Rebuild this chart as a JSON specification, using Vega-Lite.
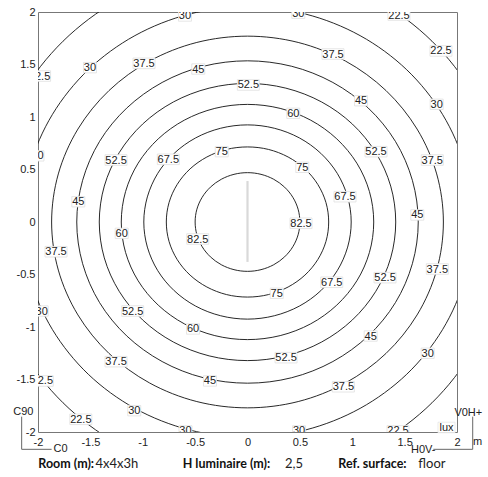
{
  "$schema": "https://vega.github.io/schema/vega-lite/v6.json",
  "width": 419,
  "height": 420,
  "autosize": {"type": "none"},
  "padding": {"left": 38, "top": 12, "right": 31, "bottom": 45},
  "background": "white",
  "config": {"view": {"stroke": "#777", "strokeWidth": 1}},
  "datasets": {
    "contours": [
      {"c":82.5,"i":0,"x":0.5,"y":0},{"c":82.5,"i":1,"x":0.483,"y":0.122},{"c":82.5,"i":2,"x":0.433,"y":0.235},{"c":82.5,"i":3,"x":0.354,"y":0.332},{"c":82.5,"i":4,"x":0.25,"y":0.407},{"c":82.5,"i":5,"x":0.129,"y":0.454},{"c":82.5,"i":6,"x":0,"y":0.47},{"c":82.5,"i":7,"x":-0.129,"y":0.454},{"c":82.5,"i":8,"x":-0.25,"y":0.407},{"c":82.5,"i":9,"x":-0.354,"y":0.332},{"c":82.5,"i":10,"x":-0.433,"y":0.235},{"c":82.5,"i":11,"x":-0.483,"y":0.122},{"c":82.5,"i":12,"x":-0.5,"y":0},{"c":82.5,"i":13,"x":-0.483,"y":-0.122},{"c":82.5,"i":14,"x":-0.433,"y":-0.235},{"c":82.5,"i":15,"x":-0.354,"y":-0.332},{"c":82.5,"i":16,"x":-0.25,"y":-0.407},{"c":82.5,"i":17,"x":-0.129,"y":-0.454},{"c":82.5,"i":18,"x":0,"y":-0.47},{"c":82.5,"i":19,"x":0.129,"y":-0.454},{"c":82.5,"i":20,"x":0.25,"y":-0.407},{"c":82.5,"i":21,"x":0.354,"y":-0.332},{"c":82.5,"i":22,"x":0.433,"y":-0.235},{"c":82.5,"i":23,"x":0.483,"y":-0.122},
      {"c":75,"i":0,"x":0.775,"y":0},{"c":75,"i":1,"x":0.749,"y":0.185},{"c":75,"i":2,"x":0.671,"y":0.358},{"c":75,"i":3,"x":0.548,"y":0.506},{"c":75,"i":4,"x":0.388,"y":0.619},{"c":75,"i":5,"x":0.201,"y":0.691},{"c":75,"i":6,"x":0,"y":0.715},{"c":75,"i":7,"x":-0.201,"y":0.691},{"c":75,"i":8,"x":-0.388,"y":0.619},{"c":75,"i":9,"x":-0.548,"y":0.506},{"c":75,"i":10,"x":-0.671,"y":0.358},{"c":75,"i":11,"x":-0.749,"y":0.185},{"c":75,"i":12,"x":-0.775,"y":0},{"c":75,"i":13,"x":-0.749,"y":-0.185},{"c":75,"i":14,"x":-0.671,"y":-0.358},{"c":75,"i":15,"x":-0.548,"y":-0.506},{"c":75,"i":16,"x":-0.388,"y":-0.619},{"c":75,"i":17,"x":-0.201,"y":-0.691},{"c":75,"i":18,"x":0,"y":-0.715},{"c":75,"i":19,"x":0.201,"y":-0.691},{"c":75,"i":20,"x":0.388,"y":-0.619},{"c":75,"i":21,"x":0.548,"y":-0.506},{"c":75,"i":22,"x":0.671,"y":-0.358},{"c":75,"i":23,"x":0.749,"y":-0.185},
      {"c":67.5,"i":0,"x":0.99,"y":0},{"c":67.5,"i":1,"x":0.956,"y":0.239},{"c":67.5,"i":2,"x":0.857,"y":0.463},{"c":67.5,"i":3,"x":0.7,"y":0.654},{"c":67.5,"i":4,"x":0.495,"y":0.801},{"c":67.5,"i":5,"x":0.256,"y":0.893},{"c":67.5,"i":6,"x":0,"y":0.925},{"c":67.5,"i":7,"x":-0.256,"y":0.893},{"c":67.5,"i":8,"x":-0.495,"y":0.801},{"c":67.5,"i":9,"x":-0.7,"y":0.654},{"c":67.5,"i":10,"x":-0.857,"y":0.463},{"c":67.5,"i":11,"x":-0.956,"y":0.239},{"c":67.5,"i":12,"x":-0.99,"y":0},{"c":67.5,"i":13,"x":-0.956,"y":-0.239},{"c":67.5,"i":14,"x":-0.857,"y":-0.463},{"c":67.5,"i":15,"x":-0.7,"y":-0.654},{"c":67.5,"i":16,"x":-0.495,"y":-0.801},{"c":67.5,"i":17,"x":-0.256,"y":-0.893},{"c":67.5,"i":18,"x":0,"y":-0.925},{"c":67.5,"i":19,"x":0.256,"y":-0.893},{"c":67.5,"i":20,"x":0.495,"y":-0.801},{"c":67.5,"i":21,"x":0.7,"y":-0.654},{"c":67.5,"i":22,"x":0.857,"y":-0.463},{"c":67.5,"i":23,"x":0.956,"y":-0.239},
      {"c":60,"i":0,"x":1.205,"y":0},{"c":60,"i":1,"x":1.164,"y":0.29},{"c":60,"i":2,"x":1.044,"y":0.56},{"c":60,"i":3,"x":0.852,"y":0.792},{"c":60,"i":4,"x":0.603,"y":0.97},{"c":60,"i":5,"x":0.312,"y":1.082},{"c":60,"i":6,"x":0,"y":1.12},{"c":60,"i":7,"x":-0.312,"y":1.082},{"c":60,"i":8,"x":-0.603,"y":0.97},{"c":60,"i":9,"x":-0.852,"y":0.792},{"c":60,"i":10,"x":-1.044,"y":0.56},{"c":60,"i":11,"x":-1.164,"y":0.29},{"c":60,"i":12,"x":-1.205,"y":0},{"c":60,"i":13,"x":-1.164,"y":-0.29},{"c":60,"i":14,"x":-1.044,"y":-0.56},{"c":60,"i":15,"x":-0.852,"y":-0.792},{"c":60,"i":16,"x":-0.603,"y":-0.97},{"c":60,"i":17,"x":-0.312,"y":-1.082},{"c":60,"i":18,"x":0,"y":-1.12},{"c":60,"i":19,"x":0.312,"y":-1.082},{"c":60,"i":20,"x":0.603,"y":-0.97},{"c":60,"i":21,"x":0.852,"y":-0.792},{"c":60,"i":22,"x":1.044,"y":-0.56},{"c":60,"i":23,"x":1.164,"y":-0.29},
      {"c":52.5,"i":0,"x":1.415,"y":0},{"c":52.5,"i":1,"x":1.367,"y":0.342},{"c":52.5,"i":2,"x":1.225,"y":0.66},{"c":52.5,"i":3,"x":1.001,"y":0.933},{"c":52.5,"i":4,"x":0.708,"y":1.143},{"c":52.5,"i":5,"x":0.366,"y":1.275},{"c":52.5,"i":6,"x":0,"y":1.32},{"c":52.5,"i":7,"x":-0.366,"y":1.275},{"c":52.5,"i":8,"x":-0.708,"y":1.143},{"c":52.5,"i":9,"x":-1.001,"y":0.933},{"c":52.5,"i":10,"x":-1.225,"y":0.66},{"c":52.5,"i":11,"x":-1.367,"y":0.342},{"c":52.5,"i":12,"x":-1.415,"y":0},{"c":52.5,"i":13,"x":-1.367,"y":-0.342},{"c":52.5,"i":14,"x":-1.225,"y":-0.66},{"c":52.5,"i":15,"x":-1.001,"y":-0.933},{"c":52.5,"i":16,"x":-0.708,"y":-1.143},{"c":52.5,"i":17,"x":-0.366,"y":-1.275},{"c":52.5,"i":18,"x":0,"y":-1.32},{"c":52.5,"i":19,"x":0.366,"y":-1.275},{"c":52.5,"i":20,"x":0.708,"y":-1.143},{"c":52.5,"i":21,"x":1.001,"y":-0.933},{"c":52.5,"i":22,"x":1.225,"y":-0.66},{"c":52.5,"i":23,"x":1.367,"y":-0.342},
      {"c":45,"i":0,"x":1.63,"y":0},{"c":45,"i":1,"x":1.574,"y":0.397},{"c":45,"i":2,"x":1.412,"y":0.768},{"c":45,"i":3,"x":1.153,"y":1.085},{"c":45,"i":4,"x":0.815,"y":1.329},{"c":45,"i":5,"x":0.422,"y":1.483},{"c":45,"i":6,"x":0,"y":1.535},{"c":45,"i":7,"x":-0.422,"y":1.483},{"c":45,"i":8,"x":-0.815,"y":1.329},{"c":45,"i":9,"x":-1.153,"y":1.085},{"c":45,"i":10,"x":-1.412,"y":0.768},{"c":45,"i":11,"x":-1.574,"y":0.397},{"c":45,"i":12,"x":-1.63,"y":0},{"c":45,"i":13,"x":-1.574,"y":-0.397},{"c":45,"i":14,"x":-1.412,"y":-0.768},{"c":45,"i":15,"x":-1.153,"y":-1.085},{"c":45,"i":16,"x":-0.815,"y":-1.329},{"c":45,"i":17,"x":-0.422,"y":-1.483},{"c":45,"i":18,"x":0,"y":-1.535},{"c":45,"i":19,"x":0.422,"y":-1.483},{"c":45,"i":20,"x":0.815,"y":-1.329},{"c":45,"i":21,"x":1.153,"y":-1.085},{"c":45,"i":22,"x":1.412,"y":-0.768},{"c":45,"i":23,"x":1.574,"y":-0.397},
      {"c":37.5,"i":0,"x":1.87,"y":0},{"c":37.5,"i":1,"x":1.806,"y":0.458},{"c":37.5,"i":2,"x":1.619,"y":0.885},{"c":37.5,"i":3,"x":1.322,"y":1.252},{"c":37.5,"i":4,"x":0.935,"y":1.533},{"c":37.5,"i":5,"x":0.484,"y":1.71},{"c":37.5,"i":6,"x":0,"y":1.77},{"c":37.5,"i":7,"x":-0.484,"y":1.71},{"c":37.5,"i":8,"x":-0.935,"y":1.533},{"c":37.5,"i":9,"x":-1.322,"y":1.252},{"c":37.5,"i":10,"x":-1.619,"y":0.885},{"c":37.5,"i":11,"x":-1.806,"y":0.458},{"c":37.5,"i":12,"x":-1.87,"y":0},{"c":37.5,"i":13,"x":-1.806,"y":-0.458},{"c":37.5,"i":14,"x":-1.619,"y":-0.885},{"c":37.5,"i":15,"x":-1.322,"y":-1.252},{"c":37.5,"i":16,"x":-0.935,"y":-1.533},{"c":37.5,"i":17,"x":-0.484,"y":-1.71},{"c":37.5,"i":18,"x":0,"y":-1.77},{"c":37.5,"i":19,"x":0.484,"y":-1.71},{"c":37.5,"i":20,"x":0.935,"y":-1.533},{"c":37.5,"i":21,"x":1.322,"y":-1.252},{"c":37.5,"i":22,"x":1.619,"y":-0.885},{"c":37.5,"i":23,"x":1.806,"y":-0.458},
      {"c":30,"i":0,"x":2.15,"y":0},{"c":30,"i":1,"x":2.077,"y":0.531},{"c":30,"i":2,"x":1.862,"y":1.025},{"c":30,"i":3,"x":1.52,"y":1.45},{"c":30,"i":4,"x":1.075,"y":1.775},{"c":30,"i":5,"x":0.556,"y":1.98},{"c":30,"i":6,"x":0,"y":2.05},{"c":30,"i":7,"x":-0.556,"y":1.98},{"c":30,"i":8,"x":-1.075,"y":1.775},{"c":30,"i":9,"x":-1.52,"y":1.45},{"c":30,"i":10,"x":-1.862,"y":1.025},{"c":30,"i":11,"x":-2.077,"y":0.531},{"c":30,"i":12,"x":-2.15,"y":0},{"c":30,"i":13,"x":-2.077,"y":-0.531},{"c":30,"i":14,"x":-1.862,"y":-1.025},{"c":30,"i":15,"x":-1.52,"y":-1.45},{"c":30,"i":16,"x":-1.075,"y":-1.775},{"c":30,"i":17,"x":-0.556,"y":-1.98},{"c":30,"i":18,"x":0,"y":-2.05},{"c":30,"i":19,"x":0.556,"y":-1.98},{"c":30,"i":20,"x":1.075,"y":-1.775},{"c":30,"i":21,"x":1.52,"y":-1.45},{"c":30,"i":22,"x":1.862,"y":-1.025},{"c":30,"i":23,"x":2.077,"y":-0.531},
      {"c":22.5,"i":0,"x":2.49,"y":0},{"c":22.5,"i":1,"x":2.405,"y":0.63},{"c":22.5,"i":2,"x":2.156,"y":1.218},{"c":22.5,"i":3,"x":1.761,"y":1.722},{"c":22.5,"i":4,"x":1.245,"y":2.109},{"c":22.5,"i":5,"x":0.644,"y":2.352},{"c":22.5,"i":6,"x":0,"y":2.435},{"c":22.5,"i":7,"x":-0.644,"y":2.352},{"c":22.5,"i":8,"x":-1.245,"y":2.109},{"c":22.5,"i":9,"x":-1.761,"y":1.722},{"c":22.5,"i":10,"x":-2.156,"y":1.218},{"c":22.5,"i":11,"x":-2.405,"y":0.63},{"c":22.5,"i":12,"x":-2.49,"y":0},{"c":22.5,"i":13,"x":-2.405,"y":-0.63},{"c":22.5,"i":14,"x":-2.156,"y":-1.218},{"c":22.5,"i":15,"x":-1.761,"y":-1.722},{"c":22.5,"i":16,"x":-1.245,"y":-2.109},{"c":22.5,"i":17,"x":-0.644,"y":-2.352},{"c":22.5,"i":18,"x":0,"y":-2.435},{"c":22.5,"i":19,"x":0.644,"y":-2.352},{"c":22.5,"i":20,"x":1.245,"y":-2.109},{"c":22.5,"i":21,"x":1.761,"y":-1.722},{"c":22.5,"i":22,"x":2.156,"y":-1.218},{"c":22.5,"i":23,"x":2.405,"y":-0.63}
    ],
    "labels": [
      {"t":"30","x":-0.597,"y":1.962},{"t":"30","x":0.485,"y":1.988},{"t":"22.5","x":1.446,"y":1.971},{"t":"22.5","x":1.847,"y":1.629},
      {"t":"22.5","x":-1.985,"y":1.39},{"t":"30","x":-1.504,"y":1.47},{"t":"37.5","x":-0.988,"y":1.511},{"t":"45","x":-0.47,"y":1.457},
      {"t":"37.5","x":0.816,"y":1.6},{"t":"52.5","x":0.008,"y":1.305},{"t":"45","x":1.084,"y":1.155},{"t":"30","x":1.806,"y":1.121},
      {"t":"60","x":0.437,"y":1.035},{"t":"30","x":-2.005,"y":0.63},{"t":"52.5","x":-1.255,"y":0.59},{"t":"67.5","x":-0.756,"y":0.597},
      {"t":"75","x":-0.246,"y":0.67},{"t":"75","x":0.523,"y":0.521},{"t":"52.5","x":1.227,"y":0.67},{"t":"37.5","x":1.764,"y":0.59},
      {"t":"45","x":-1.615,"y":0.193},{"t":"67.5","x":0.931,"y":0.241},{"t":"45","x":1.621,"y":0.067},{"t":"82.5","x":0.511,"y":-0.012},
      {"t":"60","x":-1.201,"y":-0.108},{"t":"82.5","x":-0.475,"y":-0.162},{"t":"37.5","x":-1.828,"y":-0.283},{"t":"37.5","x":1.812,"y":-0.448},
      {"t":"52.5","x":1.313,"y":-0.53},{"t":"67.5","x":0.804,"y":-0.574},{"t":"75","x":0.279,"y":-0.679},{"t":"30","x":-1.965,"y":-0.848},
      {"t":"52.5","x":-1.096,"y":-0.848},{"t":"60","x":-0.52,"y":-1.019},{"t":"45","x":1.176,"y":-1.086},{"t":"52.5","x":0.368,"y":-1.292},
      {"t":"30","x":1.72,"y":-1.25},{"t":"37.5","x":-1.255,"y":-1.33},{"t":"45","x":-0.358,"y":-1.514},{"t":"37.5","x":0.915,"y":-1.569},
      {"t":"22.5","x":-1.959,"y":-1.514},{"t":"22.5","x":1.437,"y":-1.99},{"t":"22.5","x":-1.591,"y":-1.879},{"t":"30","x":-1.081,"y":-1.797},
      {"t":"30","x":-0.592,"y":-1.99},{"t":"30","x":0.492,"y":-1.99}
    ],
    "marks": [
      {"t":"C90","x":-2.14,"y":-1.81},{"t":"C0","x":-1.785,"y":-2.165},{"t":"V0H+","x":2.108,"y":-1.819},{"t":"H0V-","x":1.678,"y":-2.167},{"t":"m","x":2.196,"y":-2.095}
    ],
    "caption": [
      {"t":"Room (m):","k":"label","x":-1.997,"y":-2.305},{"t":"4x4x3h","k":"value","x":-1.451,"y":-2.305},
      {"t":"H luminaire (m):","k":"label","x":-0.619,"y":-2.305},{"t":"2,5","k":"value","x":0.358,"y":-2.305},
      {"t":"Ref. surface:","k":"label","x":0.867,"y":-2.305},{"t":"floor","k":"value","x":1.631,"y":-2.305}
    ]
  },
  "encoding": {
    "x": {"field": "x", "type": "quantitative",
      "scale": {"domain": [-2, 2], "nice": false, "zero": false},
      "axis": {"title": null, "values": [-2,-1.5,-1,-0.5,0,0.5,1,1.5,2], "labelExpr": "datum.value + ''", "ticks": false, "domain": false, "grid": false, "labelPadding": 4, "labelFont": "Liberation Sans", "labelFontSize": 11, "labelColor": "#222", "labelFlush": false, "labelOverlap": false}},
    "y": {"field": "y", "type": "quantitative",
      "scale": {"domain": [-2, 2], "nice": false, "zero": false},
      "axis": {"title": null, "values": [-2,-1.5,-1,-0.5,0,0.5,1,1.5,2], "labelExpr": "datum.value + ''", "ticks": false, "domain": false, "grid": false, "labelPadding": 3, "labelFont": "Liberation Sans", "labelFontSize": 11, "labelColor": "#222", "labelFlush": false, "labelOverlap": false}}
  },
  "layer": [
    {
      "data": {"name": "contours"},
      "mark": {"type": "line", "interpolate": "cardinal-closed", "clip": true, "color": "#111", "strokeWidth": 0.9},
      "encoding": {"detail": {"field": "c", "type": "nominal"}, "order": {"field": "i", "type": "quantitative"}}
    },
    {
      "data": {"values": [{"x": 0, "y": 0.39, "y2": -0.38}]},
      "mark": {"type": "rule", "color": "#d9d9d9", "strokeWidth": 2.2},
      "encoding": {"y2": {"field": "y2"}}
    },
    {
      "data": {"name": "labels"},
      "transform": [{"filter": "length(datum.t) > 2"}],
      "mark": {"type": "point", "shape": "M-1,-0.48H1V0.48H-1Z", "size": 484, "filled": true, "fill": "white", "stroke": "#e0e0e0", "strokeWidth": 0.8, "opacity": 1, "clip": true}
    },
    {
      "data": {"name": "labels"},
      "transform": [{"filter": "length(datum.t) <= 2"}],
      "mark": {"type": "point", "shape": "M-1,-0.8H1V0.8H-1Z", "size": 169, "filled": true, "fill": "white", "stroke": "#e0e0e0", "strokeWidth": 0.8, "opacity": 1, "clip": true}
    },
    {
      "data": {"name": "labels"},
      "mark": {"type": "text", "font": "Liberation Sans", "fontSize": 11, "color": "#222", "align": "center", "baseline": "middle", "clip": true, "dy": 0.5},
      "encoding": {"text": {"field": "t", "type": "nominal"}}
    },
    {
      "data": {"values": [{"t": "lux", "x": 1.9, "y": -1.957}]},
      "mark": {"type": "point", "shape": "M-1,-0.62H1V0.62H-1Z", "size": 289, "filled": true, "fill": "white", "stroke": "#e6e6e6", "strokeWidth": 0.8, "opacity": 1}
    },
    {
      "data": {"values": [{"t": "lux", "x": 1.9, "y": -1.957}]},
      "mark": {"type": "text", "font": "Liberation Sans", "fontSize": 11, "color": "#222", "align": "center", "baseline": "middle", "dy": 0.5},
      "encoding": {"text": {"field": "t", "type": "nominal"}}
    },
    {
      "data": {"values": [{"x": -2.156, "y": -1.854, "y2": -2.165}, {"x": 2.15, "y": -1.854, "y2": -2.165}]},
      "mark": {"type": "rule", "color": "#666", "strokeWidth": 1, "clip": false},
      "encoding": {"y2": {"field": "y2"}}
    },
    {
      "data": {"values": [{"x": -2.156, "x2": -1.87, "y": -2.165}, {"x": 1.774, "x2": 2.15, "y": -2.165}]},
      "mark": {"type": "rule", "color": "#666", "strokeWidth": 1, "clip": false},
      "encoding": {"x2": {"field": "x2"}}
    },
    {
      "data": {"name": "marks"},
      "mark": {"type": "text", "font": "Liberation Sans", "fontSize": 11, "color": "#222", "align": "center", "baseline": "middle", "clip": false},
      "encoding": {"text": {"field": "t", "type": "nominal"}}
    },
    {
      "data": {"name": "caption"},
      "transform": [{"filter": "datum.k == 'label'"}],
      "mark": {"type": "text", "font": "Lato", "fontWeight": "bold", "fontSize": 12.5, "color": "#111", "align": "left", "baseline": "middle", "clip": false},
      "encoding": {"text": {"field": "t", "type": "nominal"}}
    },
    {
      "data": {"name": "caption"},
      "transform": [{"filter": "datum.k == 'value'"}],
      "mark": {"type": "text", "font": "Lato", "fontWeight": "normal", "fontSize": 13, "color": "#222", "align": "left", "baseline": "middle", "clip": false},
      "encoding": {"text": {"field": "t", "type": "nominal"}}
    }
  ]
}
